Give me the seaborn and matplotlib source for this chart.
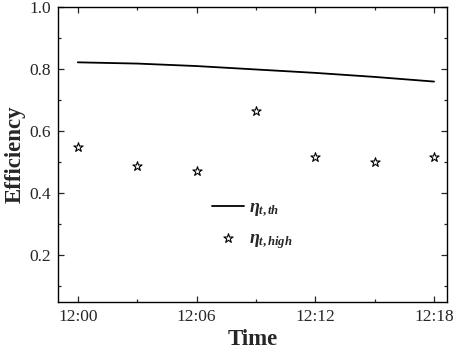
import matplotlib
matplotlib.use('Agg')
import matplotlib.pyplot as plt
import seaborn as sns
import pandas as pd
from matplotlib.ticker import MultipleLocator

# minutes after 12:00
minutes = [0, 3, 6, 9, 12, 15, 18]
eta_th = [0.822, 0.818, 0.810, 0.799, 0.788, 0.775, 0.760]
eta_high = [0.550, 0.487, 0.472, 0.665, 0.518, 0.502, 0.518]
xtick_pos = [0, 6, 12, 18]
xtick_labels = ['12:00', '12:06', '12:12', '12:18']

sns.set_style('ticks')
plt.rcParams['font.family'] = ['Liberation Serif', 'DejaVu Serif']
plt.rcParams['mathtext.fontset'] = 'custom'
plt.rcParams['mathtext.it'] = 'Liberation Serif:italic:bold'
plt.rcParams['mathtext.rm'] = 'Liberation Serif:bold'
plt.rcParams['mathtext.bf'] = 'Liberation Serif:bold'

df = pd.DataFrame({'t': minutes, 'th': eta_th, 'high': eta_high})

fig = plt.figure(figsize=(4.57, 3.54), dpi=100)
ax = fig.add_axes([0.127, 0.147, 0.851, 0.833])

sns.lineplot(data=df, x='t', y='th', ax=ax, color='black', linewidth=1.3,
             label=r'$\eta_{t,th}$')
sns.scatterplot(data=df, x='t', y='high', ax=ax, marker='*', s=48,
                facecolor='white', edgecolor='black', linewidth=0.8,
                label=r'$\eta_{t,high}$')

ax.set_xlim(-1.0, 18.65)
ax.set_ylim(0.05, 1.0)
ax.set_xticks(xtick_pos)
ax.set_xticklabels(xtick_labels)
ax.xaxis.set_minor_locator(MultipleLocator(3))
ax.set_yticks([0.2, 0.4, 0.6, 0.8, 1.0])
ax.yaxis.set_minor_locator(MultipleLocator(0.1))
ax.tick_params(which='both', direction='in', top=True, right=True,
               labelsize=12.5, width=0.9, pad=5)
ax.tick_params(which='major', length=4)
ax.tick_params(which='minor', length=2.5)
for sp in ax.spines.values():
    sp.set_linewidth(1.0)
    sp.set_color('black')

ax.set_xlabel('Time', fontsize=16.5, fontweight='bold', labelpad=3)
ax.set_ylabel('Efficiency', fontsize=16.5, fontweight='bold', labelpad=3)

ax.legend(loc='center', bbox_to_anchor=(0.50, 0.26), frameon=False,
          fontsize=13, handlelength=1.75, labelspacing=0.6, handletextpad=0.3)

fig.savefig('out.png', dpi=100)
